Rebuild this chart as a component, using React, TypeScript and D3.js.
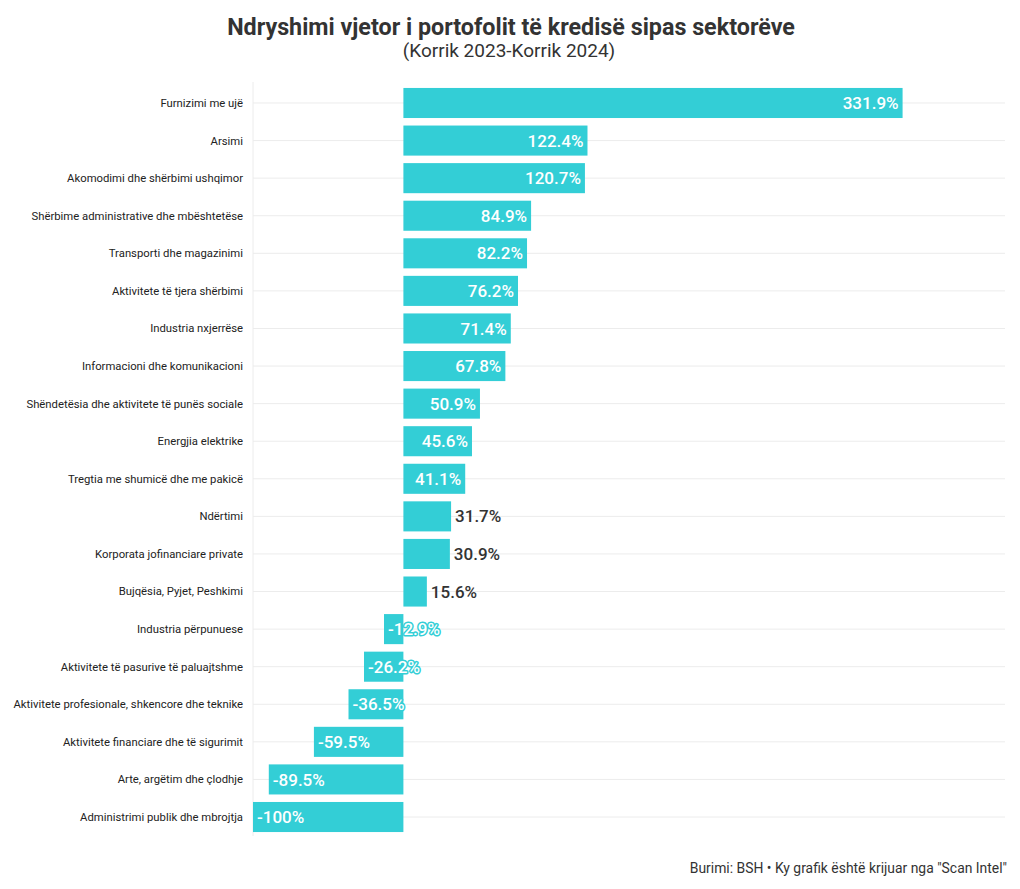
import React from "react";
import * as d3 from "d3";

const categories = [
  "Furnizimi me ujë",
  "Arsimi",
  "Akomodimi dhe shërbimi ushqimor",
  "Shërbime administrative dhe mbështetëse",
  "Transporti dhe magazinimi",
  "Aktivitete të tjera shërbimi",
  "Industria nxjerrëse",
  "Informacioni dhe komunikacioni",
  "Shëndetësia dhe aktivitete të punës sociale",
  "Energjia elektrike",
  "Tregtia me shumicë dhe me pakicë",
  "Ndërtimi",
  "Korporata jofinanciare private",
  "Bujqësia, Pyjet, Peshkimi",
  "Industria përpunuese",
  "Aktivitete të pasurive të paluajtshme",
  "Aktivitete profesionale, shkencore dhe teknike",
  "Aktivitete financiare dhe të sigurimit",
  "Arte, argëtim dhe çlodhje",
  "Administrimi publik dhe mbrojtja",
];
const values = [331.9, 122.4, 120.7, 84.9, 82.2, 76.2, 71.4, 67.8, 50.9, 45.6, 41.1, 31.7, 30.9, 15.6, -12.9, -26.2, -36.5, -59.5, -89.5, -100];
const valueLabels = ["331.9%", "122.4%", "120.7%", "84.9%", "82.2%", "76.2%", "71.4%", "67.8%", "50.9%", "45.6%", "41.1%", "31.7%", "30.9%", "15.6%", "-12.9%", "-26.2%", "-36.5%", "-59.5%", "-89.5%", "-100%"];

const W = 1020, H = 889;
const FONT = "Roboto, 'Noto Sans', sans-serif";
const TEAL = "#33ced6";

export default function App() {
  const x = d3.scaleLinear().domain([-100, 400]).range([253, 1005]);
  const y = d3.scaleBand<string>().domain(categories).range([84.2, 835.8]).paddingInner(0.2).paddingOuter(0.1);
  const bw = y.bandwidth();
  return (
    <svg width={W} height={H} style={{ position: "absolute", left: 0, top: 0, background: "#fff" }} fontFamily={FONT}>
      <text x={511} y={35} textAnchor="middle" fontSize={23.3} fontWeight={700} fill="#333">
        Ndryshimi vjetor i portofolit të kredisë sipas sektorëve
      </text>
      <text x={509} y={57} textAnchor="middle" fontSize={19} fill="#333">
        (Korrik 2023-Korrik 2024)
      </text>
      <line x1={253} x2={253} y1={82} y2={836} stroke="#ececec" />
      {categories.map((c, i) => {
        const cy = (y(c) ?? 0) + bw / 2;
        return (
          <g key={c}>
            <line x1={253} x2={1005} y1={cy} y2={cy} stroke="#ececec" />
            <text x={243} y={cy} dy="0.35em" textAnchor="end" fontSize={11.3} fill="#222">{c}</text>
          </g>
        );
      })}
      {categories.map((c, i) => {
        const v = values[i];
        const x0 = x(Math.min(0, v));
        const x1 = x(Math.max(0, v));
        return <rect key={c} x={x0} y={y(c)} width={x1 - x0} height={bw} fill={TEAL} />;
      })}
      {categories.map((c, i) => {
        const v = values[i];
        const cy = (y(c) ?? 0) + bw / 2;
        let tx: number, anchor: string, fill: string, stroke = "none";
        if (v >= 40) {
          tx = x(v) - 4; anchor = "end"; fill = "#fff";
        } else if (v > 0) {
          tx = x(v) + 4; anchor = "start"; fill = "#333";
        } else {
          tx = x(v) + 4; anchor = "start"; fill = "#fff"; stroke = TEAL;
        }
        return (
          <text key={c} x={tx} y={cy} dy="0.36em" textAnchor={anchor} fontSize={17} fontWeight={500}
            fill={fill} stroke={stroke} strokeWidth={stroke === "none" ? 0 : 3} paintOrder="stroke" strokeLinejoin="round">
            {valueLabels[i]}
          </text>
        );
      })}
      <text x={1007} y={873} textAnchor="end" fontSize={13.9} fill="#333">
        Burimi: BSH • Ky grafik është krijuar nga "Scan Intel"
      </text>
    </svg>
  );
}
